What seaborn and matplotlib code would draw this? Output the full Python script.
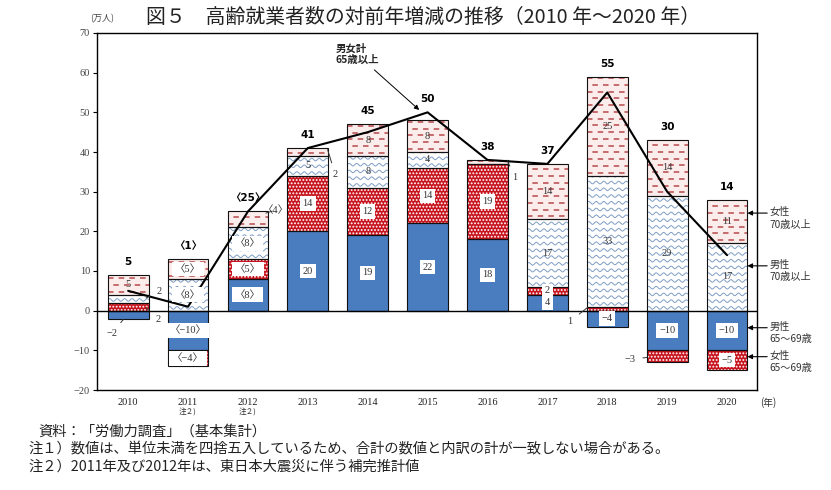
import numpy as np
import pandas as pd
import matplotlib
matplotlib.use("Agg")
import matplotlib.pyplot as plt
import matplotlib.transforms as mtransforms
from matplotlib.lines import Line2D
import seaborn as sns

# ---------------- data ----------------
years = ["2010", "2011", "2012", "2013", "2014", "2015",
         "2016", "2017", "2018", "2019", "2020"]
male_65_69 = [-2, -10, 8, 20, 19, 22, 18, 4, -4, -10, -10]
female_65_69 = [2, -4, 5, 14, 12, 14, 19, 2, 1, -3, -5]
male_70plus = [2, 8, 8, 5, 8, 4, 0, 17, 33, 29, 17]
female_70plus = [5, 5, 4, 2, 8, 8, 1, 14, 25, 14, 11]
total_65plus = [5, 1, 25, 41, 45, 50, 38, 37, 55, 30, 14]
supplementary = [False, True, True, False, False, False,
                 False, False, False, False, False]   # 2011, 2012 -> 〈 〉
y_ticks = [-20, -10, 0, 10, 20, 30, 40, 50, 60, 70]

series_names = ["男性\n65～69歳", "女性\n65～69歳", "男性\n70歳以上", "女性\n70歳以上"]
series_keys = ["m6569", "f6569", "m70", "f70"]
series_vals = [male_65_69, female_65_69, male_70plus, female_70plus]

title = "図５　高齢就業者数の対前年増減の推移（2010 年～2020 年）"
notes = ["資料：「労働力調査」（基本集計）",
         "注１）数値は、単位未満を四捨五入しているため、合計の数値と内訳の計が一致しない場合がある。",
         "注２）2011年及び2012年は、東日本大震災に伴う補完推計値"]

# ---------------- styling ----------------
BLUE = "#4A7CC0"
RED = "#C8141E"
PINK_BG = "#FCEDED"
DASH_C = "#B8484C"
WAVE_C = "#7F9DC4"
EDGE = "#111111"
W = 0.68
CJK = ["Noto Sans CJK JP", "DejaVu Sans"]
SERIF = ["Liberation Serif", "Noto Sans CJK JP"]

sns.set_theme(style="white")
plt.rcParams["font.family"] = CJK
plt.rcParams["hatch.linewidth"] = 0.9
plt.rcParams["axes.unicode_minus"] = True

n = len(years)
# stacking
bottoms = {}
pos = np.zeros(n)
neg = np.zeros(n)
for key, vals in zip(series_keys, series_vals):
    v = np.array(vals, dtype=float)
    bottoms[key] = np.where(v >= 0, pos, neg)
    pos = pos + np.where(v >= 0, v, 0)
    neg = neg + np.where(v < 0, v, 0)
values = {k: np.array(v, dtype=float) for k, v in zip(series_keys, series_vals)}
top = pos

fig = plt.figure(figsize=(8.31, 4.90), dpi=100)
ax = fig.add_axes([97 / 831, 1 - 390 / 490, (757 - 97) / 831, (390 - 33) / 490])


def bars(key, **kw):
    sns.barplot(x=years, y=values[key], order=years, bottom=bottoms[key],
                width=W, errorbar=None, saturation=1, ax=ax, **kw)
    return ax.containers[-1]


cont = {}
cont["m6569"] = bars("m6569", color=BLUE, linewidth=0, zorder=2)
cont["f6569"] = bars("f6569", color=RED, edgecolor="white", linewidth=0,
                     hatch=".....", zorder=2)
cont["m70"] = bars("m70", color="white", linewidth=0, zorder=2)
cont["f70"] = bars("f70", color=PINK_BG, linewidth=0, zorder=2)

# texture: waves (male 70+) and staggered dashes (female 70+)
for rect in cont["m70"].patches:
    x0, y0, w, h = rect.get_x(), rect.get_y(), rect.get_width(), rect.get_height()
    if h == 0:
        continue
    lo, hi = min(y0, y0 + h), max(y0, y0 + h)
    xs = np.linspace(x0, x0 + w, 160)
    for yy in np.arange(lo + 0.7, hi + 0.9, 1.7):
        ln = Line2D(xs, yy + 0.33 * np.sin(2 * np.pi * (xs - x0) / 0.125),
                    color=WAVE_C, lw=0.7, zorder=3)
        ax.add_line(ln)
        ln.set_clip_path(rect)

for rect in cont["f70"].patches:
    x0, y0, w, h = rect.get_x(), rect.get_y(), rect.get_width(), rect.get_height()
    if h == 0:
        continue
    lo, hi = min(y0, y0 + h), max(y0, y0 + h)
    for j, yy in enumerate(np.arange(lo + 0.8, hi + 0.5, 1.7)):
        off = 0 if j % 2 == 0 else 3.5
        ln = Line2D([x0, x0 + w], [yy, yy], color=DASH_C, lw=1.1,
                    linestyle=(off, (3.6, 3.4)), zorder=3)
        ax.add_line(ln)
        ln.set_clip_path(rect)

# outlines
for key in series_keys:
    bars(key, color=EDGE, facecolor="none", edgecolor=EDGE, linewidth=0.8,
         zorder=4)

ax.axhline(0, color="black", lw=1.0, zorder=4.5)

# total line
sns.lineplot(x=np.arange(n), y=total_65plus, color="black", lw=1.5,
             ax=ax, zorder=5, legend=False)


def fmt(v, br):
    s = str(int(abs(v)))
    if v < 0:
        s = "−" + s
    return "〈" + s + "〉" if br else s


# outside labels: (year index, key, label dx, label dy, attach dx, attach dy)
outside = [
    (0, "m6569", -0.27, -4.8, -0.08, -1.2),
    (0, "f6569", 0.50, -3.3, 0.30, -0.2),
    (0, "m70", 0.52, 1.8, 0.30, 0.2),
    (2, "f70", 0.47, 2.4, 0.30, 1.6),
    (3, "f70", 0.46, -5.7, 0.33, 0.6),
    (6, "f70", 0.46, -4.0, 0.33, 0.4),
    (8, "f6569", -0.62, -3.2, -0.33, 0.3),
    (9, "f6569", -0.62, -0.8, -0.34, -0.3),
]
outside_set = {(o[0], o[1]) for o in outside}

for key in series_keys:
    for i in range(n):
        v = values[key][i]
        if v == 0 or (i, key) in outside_set:
            continue
        mid = bottoms[key][i] + v / 2
        boxed = key in ("m6569", "f6569") or supplementary[i]
        ax.text(i, mid, fmt(v, supplementary[i]), ha="center", va="center",
                fontsize=7.5, family=SERIF, color="#333333", zorder=7,
                bbox=dict(boxstyle="square,pad=0.25", fc="white", ec="none")
                if boxed else None)

for i, key, ldx, ldy, adx, ady in outside:
    v = values[key][i]
    mid = bottoms[key][i] + v / 2
    ax.annotate(fmt(v, supplementary[i]), xy=(i + adx, mid + ady),
                xytext=(i + ldx, mid + ldy), ha="center", va="center",
                fontsize=7.5, family=SERIF, color="#333333", zorder=7,
                annotation_clip=False,
                arrowprops=dict(arrowstyle="-", lw=0.7, color="#333333",
                                shrinkA=3, shrinkB=0))

# totals above bars
for i in range(n):
    ytxt = max(top[i], total_65plus[i]) + 3.3
    ax.text(i, ytxt, fmt(total_65plus[i], supplementary[i]), ha="center",
            va="center", fontsize=7.5, fontweight="bold",
            family=["DejaVu Sans", "Noto Sans CJK JP"], color="black", zorder=7)

# line annotation
ax.annotate("男女計\n65歳以上", xy=(4.86, 50.6), xytext=(3.47, 62.0),
            ha="left", va="bottom", fontsize=7.5, fontweight="bold",
            family=CJK, linespacing=1.15, zorder=7,
            arrowprops=dict(arrowstyle="-|>", lw=0.7, color="black",
                            mutation_scale=7, shrinkA=2, shrinkB=0,
                            relpos=(0.75, 0.0)))

# right-hand legend labels
legend_y = {"f70": 24.6, "m70": 11.3, "m6569": -4.3, "f6569": -11.6}
for key, name in zip(series_keys, series_names):
    y = legend_y[key]
    ax.annotate("", xy=(10 + W / 2, y), xytext=(10.67, y),
                annotation_clip=False,
                arrowprops=dict(arrowstyle="-|>", lw=0.8, color="black",
                                mutation_scale=7, shrinkA=0, shrinkB=0))
    ax.text(10.71, y + 1.5, name, ha="left", va="top", fontsize=7.3,
            family=CJK, color="#333333", linespacing=1.3, clip_on=False)

# axes cosmetics
ax.set_xlim(-0.52, 10.5)
ax.set_ylim(-20, 70)
ax.set_yticks(y_ticks)
ax.set_yticklabels([("−" + str(-t)) if t < 0 else str(t) for t in y_ticks],
                   family=SERIF, fontsize=7.5, color="#444444")
ax.set_xticks(range(n))
ax.set_xticklabels(years, family=SERIF, fontsize=7.5, color="#222222")
ax.tick_params(axis="x", length=0, pad=6)
ax.tick_params(axis="y", length=3, width=0.8, direction="out", pad=2,
               left=True, color="black")
ax.set_xlabel("")
ax.set_ylabel("")
for sp in ax.spines.values():
    sp.set_color("black")
    sp.set_linewidth(1.0)
    sp.set_visible(True)

trans = mtransforms.blended_transform_factory(ax.transData, ax.transAxes)
for i in range(n):
    if supplementary[i]:
        ax.text(i, -0.06, "注２)", transform=trans, ha="center", va="center",
                fontsize=5.5, family=CJK, color="#333333")
ax.text(10.69, -0.036, "(年)", transform=trans, ha="center", va="center",
        fontsize=7, family=CJK, color="#333333")

fig.text(423 / 831, 1 - 17 / 490, title, ha="center", va="center",
         fontsize=14.3, family=CJK, color="#222222")
fig.text(90 / 831, 1 - 19 / 490, "(万人)", ha="left", va="center",
         fontsize=6.5, family=CJK, color="#444444")
fig.text(38 / 831, 1 - 432 / 490, notes[0], ha="left", va="center",
         fontsize=10.3, family=CJK, color="#222222")
fig.text(28 / 831, 1 - 449 / 490, notes[1], ha="left", va="center",
         fontsize=10.3, family=CJK, color="#222222")
fig.text(28 / 831, 1 - 467 / 490, notes[2], ha="left", va="center",
         fontsize=10.3, family=CJK, color="#222222")

fig.savefig("out.png", dpi=100, facecolor="white")
